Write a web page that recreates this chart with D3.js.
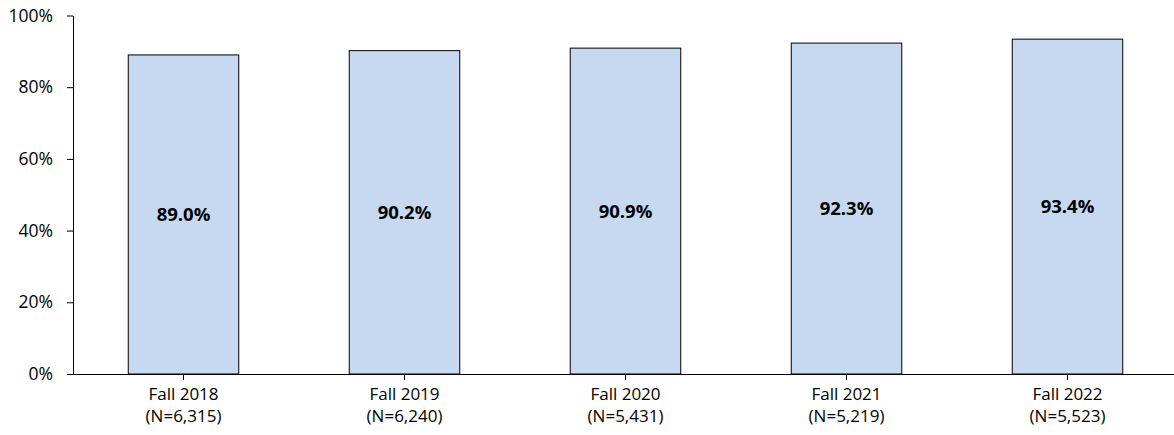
<!DOCTYPE html>
<html>
<head>
<meta charset="utf-8">
<script src="https://cdn.jsdelivr.net/npm/d3@7"></script>
<style>
  body { margin: 0; background: #fff; }
  text { font-family: "Open Sans", Lato, sans-serif; fill: #000; }
</style>
</head>
<body>
<div id="chart"></div>
<script>
var svgWidth = 1174;
var svgHeight = 435;

var categories = ["Fall 2018", "Fall 2019", "Fall 2020", "Fall 2021", "Fall 2022"];
var counts = ["(N=6,315)", "(N=6,240)", "(N=5,431)", "(N=5,219)", "(N=5,523)"];
var values = [89.0, 90.2, 90.9, 92.3, 93.4];
var yTicks = [0, 20, 40, 60, 80, 100];

var margin = { top: 15.5, right: 0, bottom: 61, left: 73 };
var height = svgHeight - margin.top - margin.bottom;

var svg = d3.select("#chart")
  .append("svg")
  .attr("width", svgWidth)
  .attr("height", svgHeight);

var chartGroup = svg.append("g")
  .attr("transform", `translate(${margin.left}, ${margin.top})`);

var xScale = d3.scaleBand()
  .domain(categories)
  .range([0, 1105])
  .paddingInner(0.5)
  .paddingOuter(0.25);

var yScale = d3.scaleLinear()
  .domain([0, 100])
  .range([height, 0]);

// bars
chartGroup.selectAll("rect.bar")
  .data(values)
  .enter()
  .append("rect")
  .attr("class", "bar")
  .attr("x", (d, i) => xScale(categories[i]))
  .attr("y", d => yScale(d))
  .attr("width", xScale.bandwidth())
  .attr("height", d => height - yScale(d))
  .attr("fill", "#c6d9f0")
  .attr("stroke", "#000")
  .attr("stroke-width", 1);

// value labels
chartGroup.selectAll("text.val")
  .data(values)
  .enter()
  .append("text")
  .attr("class", "val")
  .attr("x", (d, i) => xScale(categories[i]) + xScale.bandwidth() / 2)
  .attr("y", d => (yScale(d) + height) / 2)
  .attr("dy", "0.35em")
  .attr("text-anchor", "middle")
  .attr("font-size", "18.5px")
  .attr("font-weight", "bold")
  .text(d => d.toFixed(1) + "%");

// y axis
var leftAxis = d3.axisLeft(yScale)
  .tickValues(yTicks)
  .tickFormat(d => d + "%")
  .tickSize(6)
  .tickSizeOuter(0);

var yAxis = chartGroup.append("g").call(leftAxis);
yAxis.selectAll("text").attr("font-size", "17.5px").attr("x", -20);
yAxis.select(".domain").attr("stroke", "#000");

// x axis
var bottomAxis = d3.axisBottom(xScale)
  .tickSize(6)
  .tickSizeOuter(0)
  .tickFormat("");

var xAxis = chartGroup.append("g")
  .attr("transform", `translate(0, ${height})`)
  .call(bottomAxis);

xAxis.select(".domain").attr("d", `M0,0.5H${svgWidth - margin.left}`);

var catLabels = xAxis.selectAll(".tick")
  .append("text")
  .attr("text-anchor", "middle")
  .attr("font-size", "17px");

catLabels.append("tspan")
  .attr("x", 0)
  .attr("y", 26)
  .text(d => d);

catLabels.append("tspan")
  .attr("x", 0)
  .attr("y", 48)
  .text(d => counts[categories.indexOf(d)]);
</script>
</body>
</html>
